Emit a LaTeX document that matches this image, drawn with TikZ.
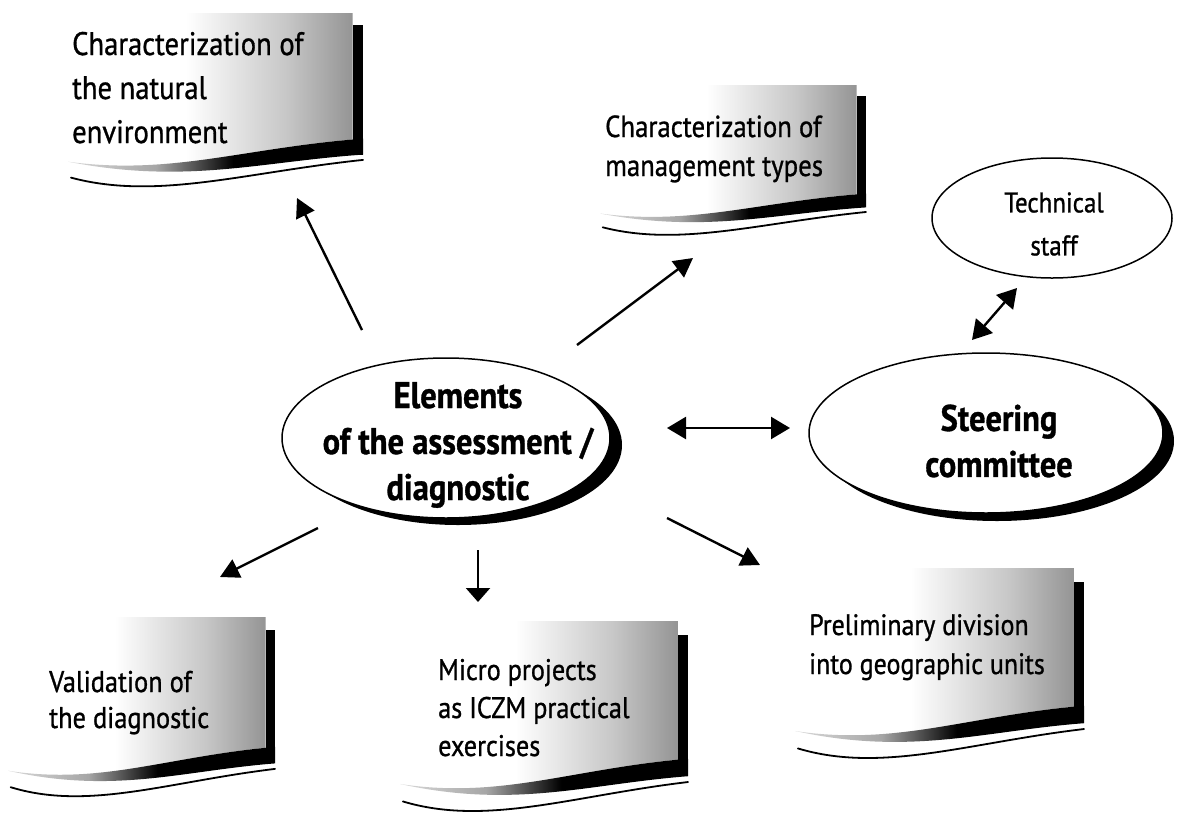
\documentclass[tikz,border=0pt]{standalone}
\usepackage{fontspec}
\setmainfont{PT Sans}[FakeStretch=0.88, FakeBold=0.9]
\usetikzlibrary{arrows.meta,shapes.geometric}
\pgfdeclarehorizontalshading{flaggray}{100bp}{color(0bp)=(white); color(25bp)=(white); color(45bp)=(white); color(62bp)=(black!22); color(75bp)=(black!45); color(100bp)=(black!45)}
\pgfdeclarehorizontalshading{flagband}{100bp}{color(0bp)=(black!15); color(25bp)=(black!15); color(40bp)=(black!35); color(53bp)=(black); color(100bp)=(black)}
\newcommand{\flagbanner}[4]{%
 \begin{scope}[shift={(#1,#2)}, x=#3pt, y=-#4pt]
  \shade[shading=flaggray] (0,0) -- (0.965,0) -- (0.965,0.72) -- (1,0.71) .. controls (0.6,0.76) and (0.35,0.92) .. (0,0.84) -- cycle;
  \fill[black] (0.965,0.07) rectangle (1,0.80);
  \shade[shading=flagband] (1,0.71) .. controls (0.6,0.76) and (0.35,0.92) .. (0,0.84) .. controls (0.4,0.97) and (0.65,0.84) .. (1,0.80) -- cycle;
  \draw[line width=1.8pt, line cap=round] (0.01,0.93) .. controls (0.3,1.06) and (0.6,0.90) .. (1,0.83);
 \end{scope}}
\begin{document}
\begin{tikzpicture}[x=1pt,y=-1pt,
  bantext/.style={anchor=base west, inner sep=0pt, text width=340pt, align=flush left},
  bigtext/.style={font=\bfseries\fontsize{37}{46}\selectfont, inner sep=0pt, align=center},
  oval/.style={ellipse, draw, line width=1.5pt, fill=white, inner sep=0pt},
  arr/.style={line width=2.4pt, -{Triangle[length=19pt,width=20pt]}},
  dblarr/.style={line width=2.4pt, {Triangle[length=19pt,width=22pt]}-{Triangle[length=19pt,width=22pt]}}]
\useasboundingbox (0,0) rectangle (1192,812);
\fill[white] (0,0) rectangle (1192,812);

% banners
\flagbanner{68}{13}{295}{177}
\flagbanner{600}{85}{266}{153}
\flagbanner{8}{617}{267}{183}
\flagbanner{400}{621}{288}{194}
\flagbanner{795}{568}{289}{194}

\node[bantext, font=\fontsize{32.5}{44}\selectfont] (t1) at (72,55) {Characterization of\\the natural\\environment};
\node[bantext, font=\fontsize{30.4}{39}\selectfont] (t2) at (605,137) {Characterization of\\management types};
\node[bantext, font=\fontsize{30}{36}\selectfont] (t3) at (49,692) {Validation of\\the diagnostic};
\node[bantext, font=\fontsize{29.8}{38}\selectfont] (t4) at (438,680) {Micro projects\\as ICZM practical\\exercises};
\node[bantext, font=\fontsize{29.5}{39}\selectfont] (t5) at (809,635) {Preliminary division\\into geographic units};

% ellipses
\fill[black] (458,445) ellipse [x radius=164, y radius=80];
\node[oval, minimum width=328pt, minimum height=160pt] (elem) at (446,438) {};
\node[bigtext] (elemlbl) at (458,445) {Elements\\of the assessment /\\diagnostic};

\fill[black] (997,441) ellipse [x radius=177, y radius=80];
\node[oval, minimum width=354pt, minimum height=160pt] (steer) at (986,433) {};
\node[bigtext] (steerlbl) at (999,441) {Steering\\committee};

\node[oval, minimum width=240pt, minimum height=120pt] (tech) at (1052,218) {};
\node[font=\fontsize{28.4}{43}\selectfont, inner sep=0pt, align=center] (techlbl) at (1054,224) {Technical\\staff};

% arrows
\coordinate (a1s) at (362,330); \coordinate (a1e) at (297,198);
\coordinate (a2s) at (577,345); \coordinate (a2e) at (693,258);
\coordinate (a3s) at (667,428); \coordinate (a3e) at (790,428);
\coordinate (a4s) at (972,340); \coordinate (a4e) at (1017,288);
\coordinate (a5s) at (318,528); \coordinate (a5e) at (220,577);
\coordinate (a6s) at (478,550); \coordinate (a6e) at (478,602);
\coordinate (a7s) at (667,518); \coordinate (a7e) at (760,565);
\draw[arr] (a1s) -- (a1e);
\draw[arr] (a2s) -- (a2e);
\draw[dblarr] (a3s) -- (a3e);
\draw[dblarr] (a4s) -- (a4e);
\draw[arr] (a5s) -- (a5e);
\draw[line width=2.2pt, -{Triangle[length=14pt,width=24pt]}] (a6s) -- (a6e);
\draw[arr] (a7s) -- (a7e);
\end{tikzpicture}
\end{document}
